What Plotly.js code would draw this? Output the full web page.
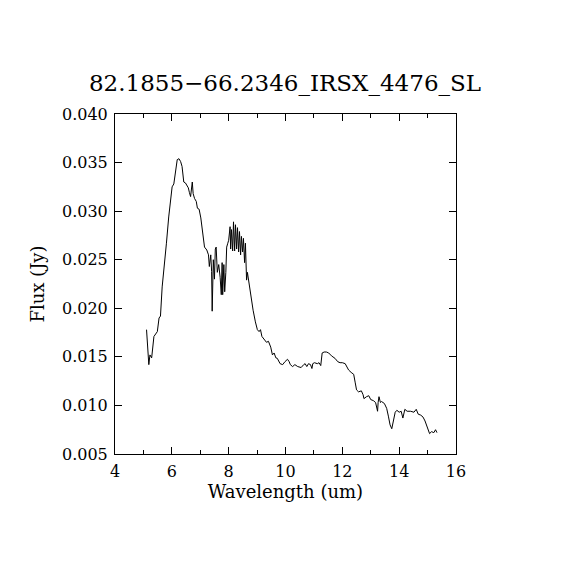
<!DOCTYPE html>
<html><head><meta charset="utf-8">
<script src="https://cdn.plot.ly/plotly-3.0.1.min.js"></script>
<style>html,body{margin:0;padding:0;background:#fff}#plot{width:570px;height:570px}</style>
</head><body><div id="plot"></div>
<script>
const titleText = "82.1855\u221266.2346_IRSX_4476_SL";
const xLabel = "Wavelength (um)";
const yLabel = "Flux (Jy)";
const wavelength = [5.11,5.19,5.23,5.29,5.37,5.49,5.55,5.60,5.66,5.74,5.81,5.89,5.95,6.01,6.07,6.13,6.19,6.25,6.31,6.36,6.42,6.48,6.54,6.58,6.62,6.66,6.72,6.75,6.80,6.86,6.90,6.96,7.02,7.09,7.15,7.23,7.29,7.32,7.37,7.40,7.42,7.46,7.50,7.53,7.56,7.60,7.65,7.70,7.74,7.77,7.79,7.83,7.86,7.90,7.93,7.97,8.00,8.05,8.07,8.10,8.14,8.17,8.21,8.24,8.28,8.31,8.35,8.38,8.42,8.45,8.49,8.52,8.56,8.59,8.63,8.66,8.71,8.78,8.86,8.94,9.01,9.07,9.12,9.17,9.25,9.33,9.40,9.48,9.54,9.60,9.66,9.71,9.81,9.90,9.98,10.07,10.13,10.17,10.25,10.33,10.43,10.55,10.64,10.69,10.75,10.81,10.88,10.93,10.96,11.02,11.12,11.18,11.24,11.29,11.36,11.44,11.52,11.62,11.74,11.84,11.92,12.00,12.10,12.16,12.22,12.31,12.40,12.45,12.50,12.57,12.67,12.73,12.76,12.85,12.93,13.00,13.09,13.17,13.24,13.26,13.29,13.34,13.38,13.48,13.56,13.62,13.68,13.74,13.80,13.86,13.92,14.00,14.07,14.13,14.20,14.28,14.40,14.52,14.60,14.67,14.76,14.84,14.91,14.99,15.07,15.14,15.22,15.28,15.33];
const flux = [0.0178,0.0142,0.0152,0.0149,0.0171,0.0176,0.0190,0.0192,0.0222,0.0243,0.0267,0.0294,0.0311,0.0325,0.0328,0.0342,0.0353,0.0354,0.0351,0.0346,0.0330,0.0329,0.0325,0.0324,0.0319,0.0315,0.0330,0.0318,0.0313,0.0310,0.0303,0.0302,0.0293,0.0277,0.0263,0.0260,0.0255,0.0243,0.0255,0.0238,0.0197,0.0250,0.0230,0.0261,0.0263,0.0237,0.0245,0.0232,0.0214,0.0247,0.0214,0.0245,0.0217,0.0237,0.0263,0.0267,0.0270,0.0284,0.0261,0.0281,0.0259,0.0289,0.0259,0.0286,0.0261,0.0283,0.0258,0.0279,0.0255,0.0274,0.0258,0.0272,0.0247,0.0267,0.0229,0.0237,0.0227,0.0212,0.0198,0.0186,0.0178,0.0176,0.0178,0.0171,0.0168,0.0165,0.0166,0.0160,0.0152,0.0154,0.0149,0.01485,0.0143,0.0142,0.0145,0.01475,0.0145,0.0142,0.0140,0.0142,0.0140,0.0139,0.0142,0.0143,0.0140,0.0143,0.0142,0.0138,0.0143,0.0144,0.0143,0.0144,0.0141,0.0154,0.0155,0.0155,0.0154,0.0151,0.01485,0.0145,0.0144,0.0144,0.0143,0.0140,0.01365,0.0134,0.0132,0.0124,0.0116,0.0114,0.0115,0.0111,0.0107,0.0109,0.0110,0.0106,0.0105,0.0103,0.0094,0.0103,0.0109,0.0103,0.0104,0.0102,0.0097,0.0089,0.0080,0.0076,0.0085,0.0093,0.0095,0.0093,0.0094,0.0087,0.0096,0.0094,0.0094,0.0093,0.0096,0.0091,0.0090,0.0088,0.0084,0.0078,0.0071,0.0073,0.0072,0.0075,0.0072];
const xTicks = [4,6,8,10,12,14,16];
const yTicks = [0.005,0.010,0.015,0.020,0.025,0.030,0.035,0.040];
const font = {family: "DejaVu Serif, Liberation Serif, serif", color: "#000"};
const axisCommon = {
  showgrid: false, zeroline: false, showline: true, linecolor: "#000", linewidth: 1,
  mirror: "ticks", ticks: "inside", tickcolor: "#000", tickwidth: 1,
  tickfont: Object.assign({size: 16}, font)
};
Plotly.newPlot("plot", [{
  x: wavelength, y: flux, type: "scatter", mode: "lines",
  line: {color: "#000", width: 1}, hoverinfo: "none"
}], {
  width: 570, height: 570,
  margin: {l: 115, r: 114, t: 114, b: 116},
  paper_bgcolor: "#fff", plot_bgcolor: "#fff", showlegend: false,
  title: {text: titleText, font: Object.assign({size: 23}, font), x: 0.5, xanchor: "center", y: 0.855, yanchor: "middle"},
  xaxis: Object.assign({}, axisCommon, {
    range: [4, 16], tickvals: xTicks, ticktext: xTicks.map(String), ticklen: 7,
    ticklabelstandoff: 3,
    minor: {dtick: 1, tick0: 4, ticks: "inside", ticklen: 4, tickcolor: "#000", showgrid: false},
    title: {text: xLabel, font: Object.assign({size: 18}, font), standoff: 5}
  }),
  yaxis: Object.assign({}, axisCommon, {
    range: [0.005, 0.040], tickvals: yTicks, ticktext: yTicks.map(v => v.toFixed(3)), ticklen: 7,
    ticklabelstandoff: 3,
    title: {text: yLabel, font: Object.assign({size: 18}, font), standoff: 12}
  })
}, {staticPlot: true});
</script></body></html>
